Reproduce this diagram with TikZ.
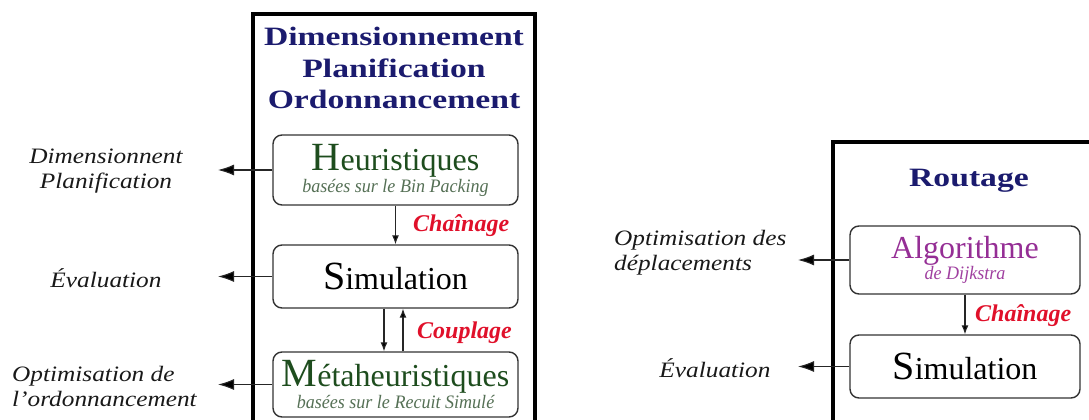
\documentclass[tikz,border=0pt]{standalone}
\usepackage{fontspec}
\setmainfont{Liberation Serif}[BoldFont={Liberation Serif Bold}, ItalicFont={Liberation Serif Italic}, BoldItalicFont={Liberation Serif Bold Italic}]
\newfontfamily\titlefont{Liberation Serif Bold}[FakeStretch=1.27]
\newfontfamily\lblfont{Liberation Serif Italic}[FakeStretch=1.15]
\newfontfamily\subfont{Liberation Serif Italic}[FakeStretch=0.95]
\newfontfamily\redfont{Liberation Serif Bold Italic}
\usetikzlibrary{arrows.meta}
\definecolor{navy}{HTML}{1B1B6E}
\definecolor{dgreen}{HTML}{1E4D1E}
\definecolor{sgreen}{HTML}{557055}
\definecolor{purp}{HTML}{952E95}
\definecolor{lpurp}{HTML}{A040A0}
\definecolor{redl}{HTML}{E0102A}
\definecolor{bord}{HTML}{333333}
\newcommand{\initbig}[2]{{\fontsize{40}{40}\selectfont #1}{\fontsize{32}{32}\selectfont #2}}
\newcommand{\subt}[1]{{\subfont\fontsize{19}{19}\selectfont #1}}
\tikzset{
  frame/.style={draw=black, line width=3.4pt},
  box/.style={draw=bord, line width=1.4pt, rounded corners=9pt, fill=white, align=center, inner sep=0pt, minimum width=245pt},
  ttl/.style={text=navy, font=\titlefont\fontsize{26.5}{31.5}\selectfont, align=center},
  lbl/.style={font=\lblfont\fontsize{22}{25}\selectfont, text=black!90},
  redlbl/.style={text=redl, font=\redfont\fontsize{24}{24}\selectfont, anchor=west, inner sep=0pt},
  outarr/.style={draw=black!85, line width=1.1pt, -{Latex[length=16pt,width=11pt,fill=black]}},
  inarr/.style={draw=black!85, line width=1.1pt, -{Latex[length=9pt,width=7pt,fill=black]}}
}
\begin{document}
\begin{tikzpicture}[x=1pt, y=-1pt]
\useasboundingbox (0,0) rectangle (1089,420);
\begin{scope}
\clip (0,0) rectangle (1089,420);
% frames
\draw[frame] (253,14) rectangle (535,440);
\draw[frame] (833,142) rectangle (1120,440);
% titles
\node[ttl] (t1) at (394,68) {Dimensionnement\\Planification\\Ordonnancement};
\node[ttl] (t2) at (969,181) {Routage};
% left boxes
\node[box, minimum height=70pt] (heur) at (395.5,170)
  {\color{dgreen}\initbig{H}{euristiques}\\[1pt]\color{sgreen}\subt{basées sur le Bin Packing}};
\node[box, minimum height=63pt] (sim) at (395.5,276.5)
  {\initbig{S}{imulation}};
\node[box, minimum height=65pt] (meta) at (395.5,384.5)
  {\color{dgreen}\initbig{M}{étaheuristiques}\\[1pt]\color{sgreen}\subt{basées sur le Recuit Simulé}};
% right boxes
\node[box, minimum width=230pt, minimum height=68pt] (algo) at (965,260)
  {\color{purp}{\fontsize{32}{32}\selectfont Algorithme}\\[0pt]\color{lpurp}\subt{de Dijkstra}};
\node[box, minimum width=230pt, minimum height=63pt] (rsim) at (965,366.5)
  {\initbig{S}{imulation}};
% internal arrows
\draw[inarr] (heur.south) -- (sim.north);
\draw[inarr] ([xshift=-11.5pt]sim.south) -- ([xshift=-11.5pt]meta.north);
\draw[inarr] ([xshift=7.5pt]meta.north) -- ([xshift=7.5pt]sim.south);
\draw[inarr] (algo.south) -- (rsim.north);
\node[redlbl] (ch1) at (413,226) {Chaînage};
\node[redlbl] (cp1) at (417,333) {Couplage};
\node[redlbl] (ch2) at (975,316) {Chaînage};
% output coordinates
\coordinate (oh) at (218,170);
\coordinate (os) at (218,276.5);
\coordinate (om) at (218,384.5);
\coordinate (oa) at (798,260);
\coordinate (or) at (798,366.5);
\draw[outarr] (heur.west) -- (oh);
\draw[outarr] (sim.west) -- (os);
\draw[outarr] (meta.west) -- (om);
\draw[outarr] (algo.west) -- (oa);
\draw[outarr] (rsim.west) -- (or);
% labels
\node[lbl, align=center] (l1) at (106,171) {Dimensionnent\\Planification};
\node[lbl] (l2) at (106,278) {Évaluation};
\node[lbl, align=left, anchor=west, inner sep=0pt] (l3) at (12,386) {Optimisation de\\l’ordonnancement};
\node[lbl, align=left, anchor=west, inner sep=0pt] (l4) at (614,253) {Optimisation des\\déplacements};
\node[lbl] (l5) at (715,368) {Évaluation};
\end{scope}
\end{tikzpicture}
\end{document}
